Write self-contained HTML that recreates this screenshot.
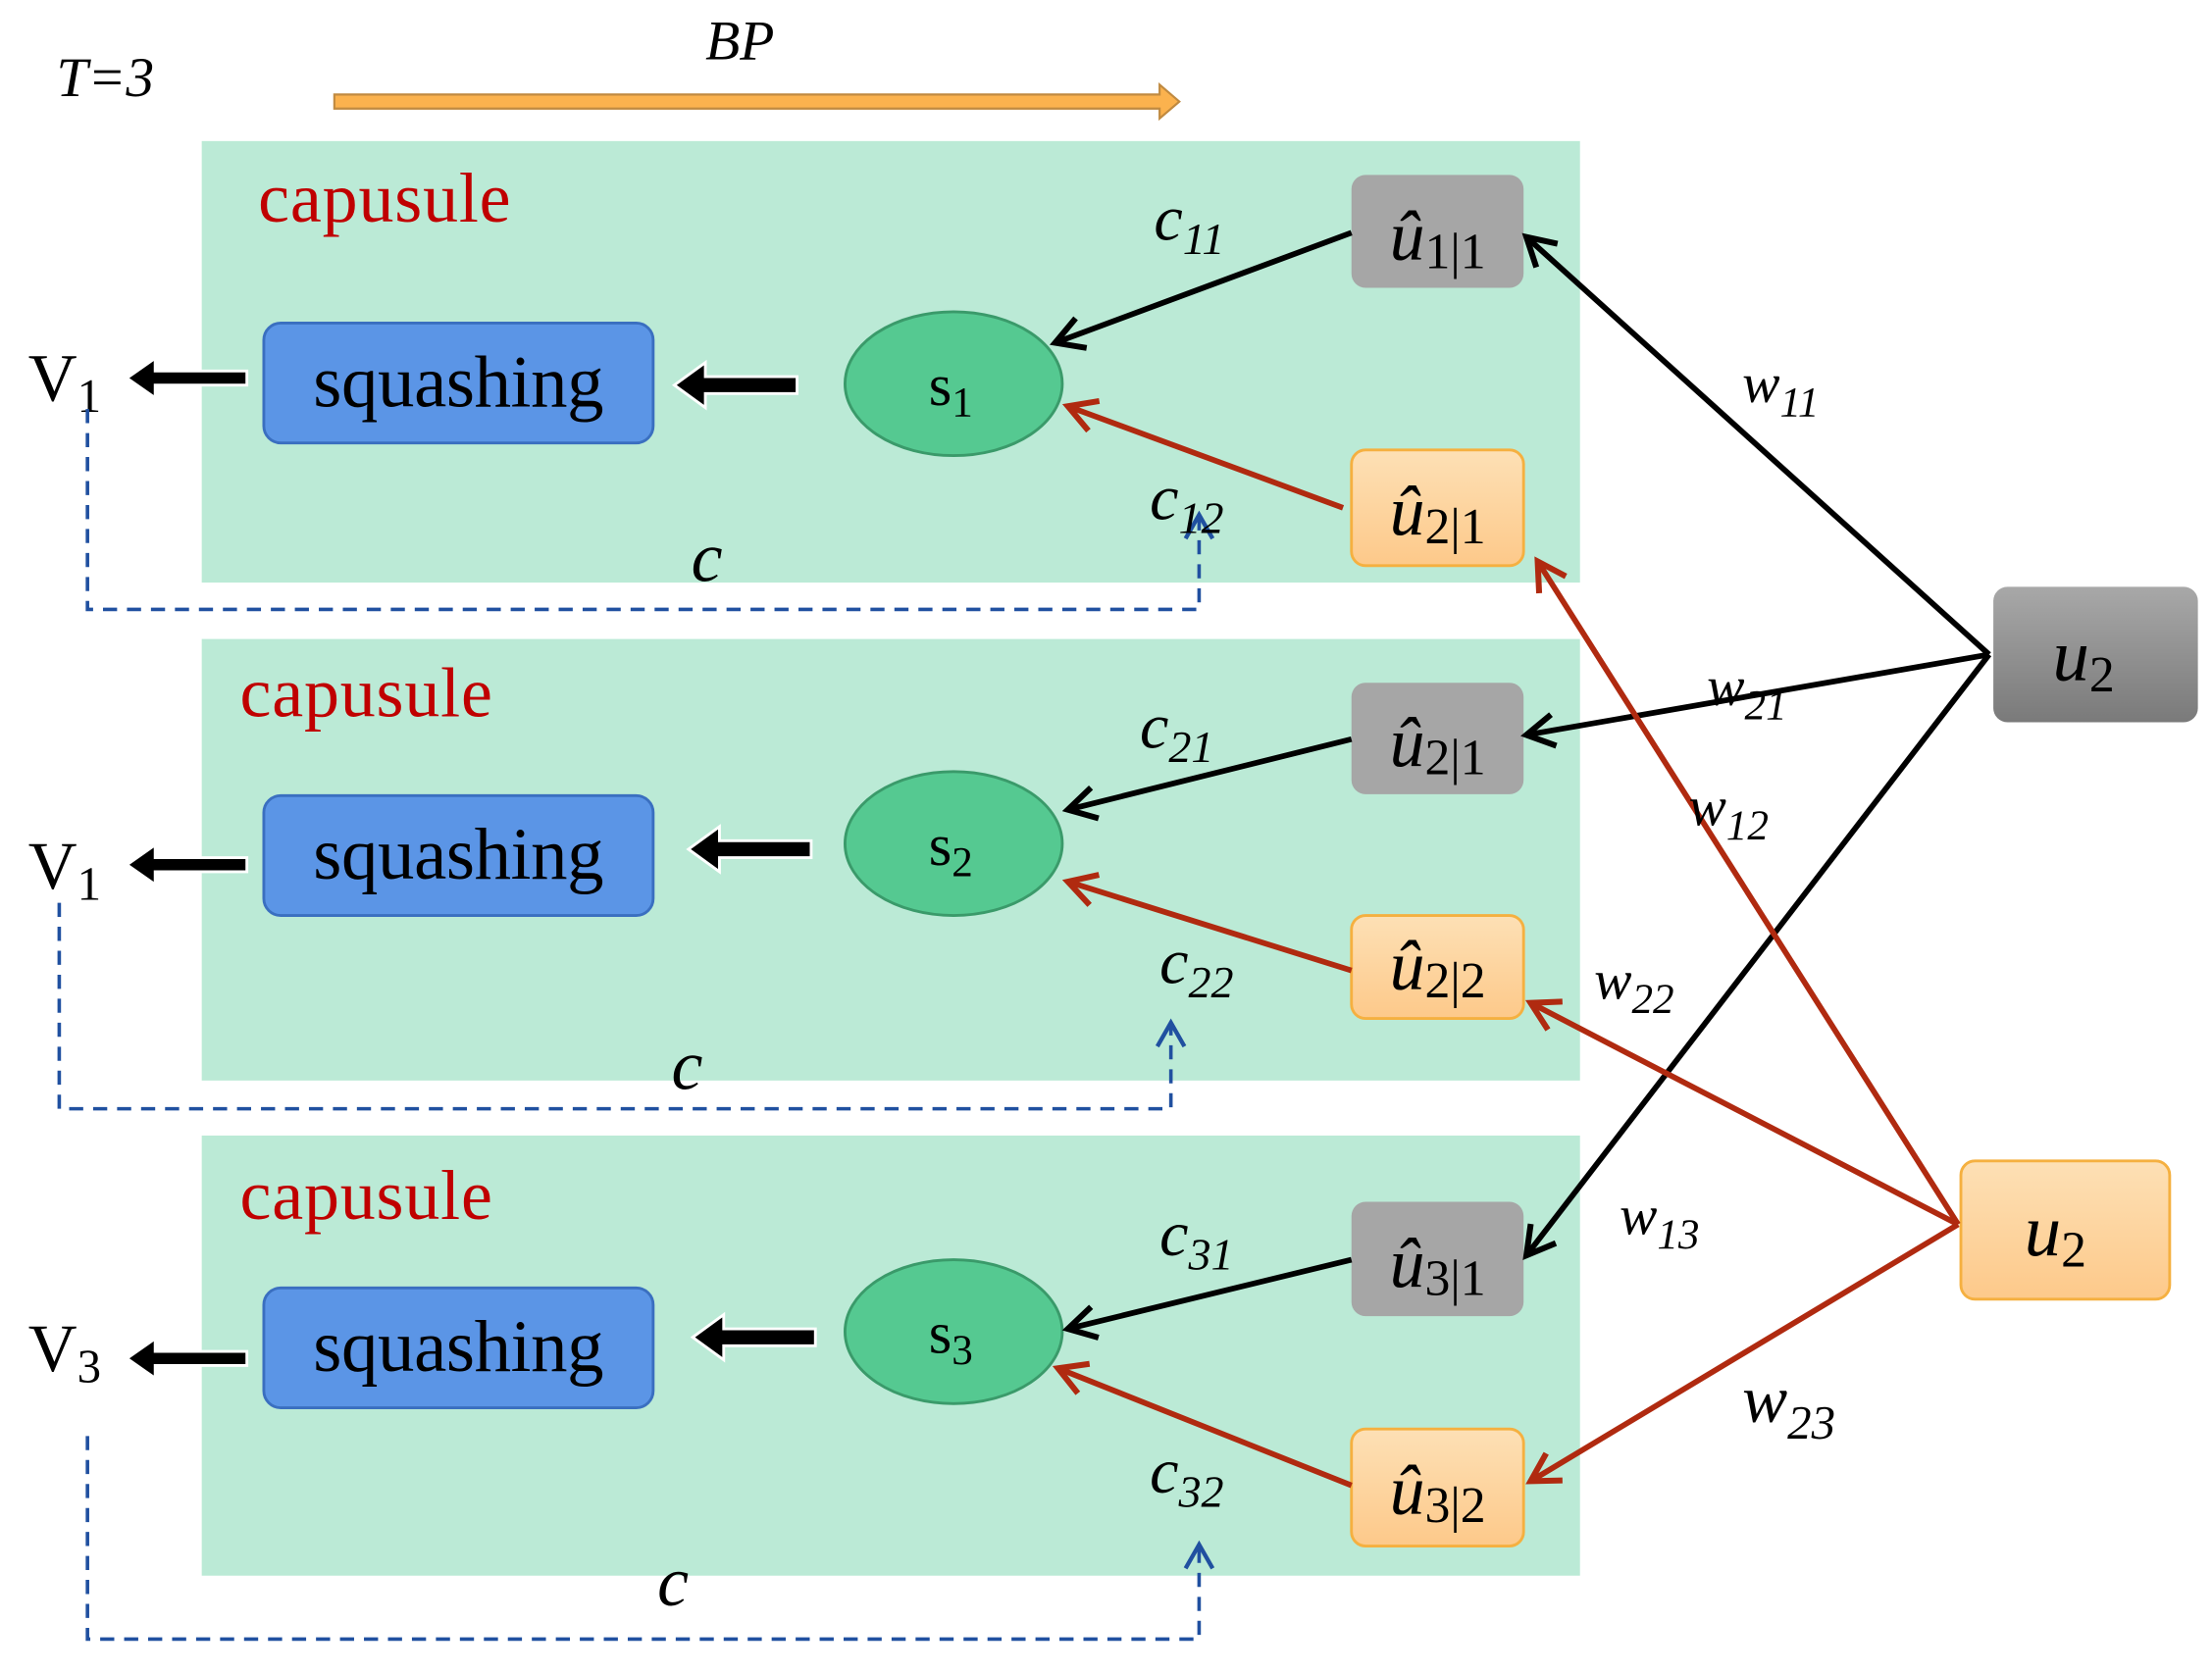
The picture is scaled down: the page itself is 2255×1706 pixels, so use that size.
<!DOCTYPE html>
<html><head><meta charset="utf-8"><style>html,body{margin:0;padding:0;background:#fff}svg{display:block}</style></head>
<body>
<svg width="2255" height="1706" viewBox="0 0 1568 1186" preserveAspectRatio="none" xmlns="http://www.w3.org/2000/svg" font-family="Liberation Serif, serif">
<defs>
<marker id="ab" viewBox="0 0 20 20" refX="17" refY="10" markerWidth="28" markerHeight="28" markerUnits="userSpaceOnUse" orient="auto"><path d="M3,2 L17,10 L3,18" fill="none" stroke="#000" stroke-width="3"/></marker>
<marker id="ar" viewBox="0 0 20 20" refX="17" refY="10" markerWidth="28" markerHeight="28" markerUnits="userSpaceOnUse" orient="auto"><path d="M3,2 L17,10 L3,18" fill="none" stroke="#b02a10" stroke-width="3"/></marker>
<marker id="ad" viewBox="0 0 20 20" refX="17" refY="10" markerWidth="24" markerHeight="24" markerUnits="userSpaceOnUse" orient="auto"><path d="M3,2 L17,10 L3,18" fill="none" stroke="#2050a0" stroke-width="2.5"/></marker>
<linearGradient id="gg" x1="0" y1="0" x2="0" y2="1"><stop offset="0" stop-color="#a8a8a8"/><stop offset="1" stop-color="#7a7a7a"/></linearGradient>
<linearGradient id="go" x1="0" y1="0" x2="0" y2="1"><stop offset="0" stop-color="#fde0b5"/><stop offset="1" stop-color="#fdc98a"/></linearGradient>
</defs>
<text x="40" y="68" font-size="40" font-style="italic">T=3</text>
<text x="500" y="42" font-size="40" font-style="italic">BP</text>
<path d="M237,67 L822,67 L822,60 L836,72 L822,84 L822,77 L237,77 Z" fill="#fbb24e" stroke="#c08a40" stroke-width="1.5"/>

<rect x="143" y="100" width="977" height="313" fill="#bbead6"/>
<rect x="143" y="453" width="977" height="313" fill="#bbead6"/>
<rect x="143" y="805" width="977" height="312" fill="#bbead6"/>

<g font-size="50" fill="#c00000">
<text x="183" y="157" textLength="179">capusule</text>
<text x="170" y="508" textLength="179">capusule</text>
<text x="170" y="864" textLength="179">capusule</text>
</g>

<g fill="#5b95e6" stroke="#3a6fc0" stroke-width="2">
<rect x="187" y="229" width="276" height="85" rx="12"/>
<rect x="187" y="564" width="276" height="85" rx="12"/>
<rect x="187" y="913" width="276" height="85" rx="12"/>
</g>
<g font-size="52" text-anchor="middle">
<text x="325" y="288" textLength="206">squashing</text>
<text x="325" y="623" textLength="206">squashing</text>
<text x="325" y="972" textLength="206">squashing</text>
</g>

<g fill="#000" stroke="#fff" stroke-width="2">
<path d="M175,263 L110,263 L110,254 L90,268 L110,282 L110,273 L175,273 Z"/>
<path d="M565,267 L500,267 L500,257 L478,273 L500,289 L500,279 L565,279 Z"/>
<path d="M175,608 L110,608 L110,599 L90,613 L110,627 L110,618 L175,618 Z"/>
<path d="M575,596 L510,596 L510,586 L488,602 L510,618 L510,608 L575,608 Z"/>
<path d="M175,958 L110,958 L110,949 L90,963 L110,977 L110,968 L175,968 Z"/>
<path d="M578,942 L513,942 L513,932 L491,948 L513,964 L513,954 L578,954 Z"/>
</g>

<g font-size="48">
<text x="20" y="284">V<tspan font-size="34" dy="8">1</tspan></text>
<text x="20" y="630">V<tspan font-size="34" dy="8">1</tspan></text>
<text x="20" y="972">V<tspan font-size="34" dy="8">3</tspan></text>
</g>

<g fill="#55c991" stroke="#3a9a6a" stroke-width="2">
<ellipse cx="676" cy="272" rx="77" ry="51"/>
<ellipse cx="676" cy="598" rx="77" ry="51"/>
<ellipse cx="676" cy="944" rx="77" ry="51"/>
</g>
<g font-size="42" text-anchor="middle">
<text x="674" y="287">s<tspan font-size="30" dy="8">1</tspan></text>
<text x="674" y="613">s<tspan font-size="30" dy="8">2</tspan></text>
<text x="674" y="959">s<tspan font-size="30" dy="8">3</tspan></text>
</g>

<g fill="#a6a6a6">
<rect x="958" y="124" width="122" height="80" rx="10"/>
<rect x="958" y="484" width="122" height="79" rx="10"/>
<rect x="958" y="852" width="122" height="81" rx="10"/>
</g>
<g fill="url(#go)" stroke="#f5b040" stroke-width="2">
<rect x="958" y="319" width="122" height="82" rx="10"/>
<rect x="958" y="649" width="122" height="73" rx="10"/>
<rect x="958" y="1013" width="122" height="83" rx="10"/>
</g>
<rect x="1413" y="416" width="145" height="96" rx="10" fill="url(#gg)"/>
<rect x="1390" y="823" width="148" height="98" rx="10" fill="url(#go)" stroke="#f5b040" stroke-width="2"/>

<g font-size="50" font-style="italic">
<text x="985" y="184">û<tspan font-style="normal" font-size="36" dy="6">1|1</tspan></text>
<text x="985" y="379">û<tspan font-style="normal" font-size="36" dy="6">2|1</tspan></text>
<text x="985" y="543">û<tspan font-style="normal" font-size="36" dy="6">2|1</tspan></text>
<text x="985" y="701">û<tspan font-style="normal" font-size="36" dy="6">2|2</tspan></text>
<text x="985" y="912">û<tspan font-style="normal" font-size="36" dy="6">3|1</tspan></text>
<text x="985" y="1073">û<tspan font-style="normal" font-size="36" dy="6">3|2</tspan></text>
<text x="1455" y="482" font-size="52">u<tspan font-style="normal" font-size="36" dy="8">2</tspan></text>
<text x="1435" y="890" font-size="52">u<tspan font-style="normal" font-size="36" dy="8">2</tspan></text>
</g>

<g stroke="#000" stroke-width="4" fill="none" marker-end="url(#ab)">
<line x1="958" y1="165" x2="748" y2="243"/>
<line x1="958" y1="524" x2="757" y2="574"/>
<line x1="958" y1="893" x2="757" y2="942"/>
<line x1="1410" y1="464" x2="1082" y2="168"/>
<line x1="1410" y1="464" x2="1082" y2="521"/>
<line x1="1410" y1="464" x2="1082" y2="890"/>
</g>
<g stroke="#b02a10" stroke-width="4" fill="none" marker-end="url(#ar)">
<line x1="952" y1="360" x2="757" y2="288"/>
<line x1="958" y1="688" x2="757" y2="625"/>
<line x1="958" y1="1053" x2="750" y2="970"/>
<line x1="1388" y1="868" x2="1090" y2="398"/>
<line x1="1388" y1="868" x2="1085" y2="711"/>
<line x1="1388" y1="868" x2="1085" y2="1050"/>
</g>

<g stroke="#2050a0" stroke-width="2.5" fill="none" stroke-dasharray="10,7" marker-end="url(#ad)">
<path d="M62,290 L62,432 L850,432 L850,365"/>
<path d="M42,640 L42,786 L830,786 L830,725"/>
<path d="M62,1018 L62,1162 L850,1162 L850,1095"/>
</g>

<g font-size="46" font-style="italic">
<text x="818" y="170">c<tspan font-size="32" dy="10">11</tspan></text>
<text x="815" y="368">c<tspan font-size="32" dy="10">12</tspan></text>
<text x="808" y="530">c<tspan font-size="32" dy="10">21</tspan></text>
<text x="822" y="697">c<tspan font-size="32" dy="10">22</tspan></text>
<text x="822" y="890">c<tspan font-size="32" dy="10">31</tspan></text>
<text x="815" y="1058">c<tspan font-size="32" dy="10">32</tspan></text>
<text x="490" y="412" font-size="50">c</text>
<text x="476" y="772" font-size="50">c</text>
<text x="466" y="1138" font-size="50">c</text>
</g>
<g font-size="40" font-style="italic">
<text x="1235" y="285">w<tspan font-size="30" dy="10">11</tspan></text>
<text x="1210" y="500">w<tspan font-size="30" dy="10">21</tspan></text>
<text x="1197" y="585">w<tspan font-size="30" dy="10">12</tspan></text>
<text x="1130" y="708">w<tspan font-size="30" dy="10">22</tspan></text>
<text x="1148" y="875">w<tspan font-size="30" dy="10">13</tspan></text>
<text x="1235" y="1008" font-size="48">w<tspan font-size="34" dy="12">23</tspan></text>
</g>
</svg>
</body></html>
